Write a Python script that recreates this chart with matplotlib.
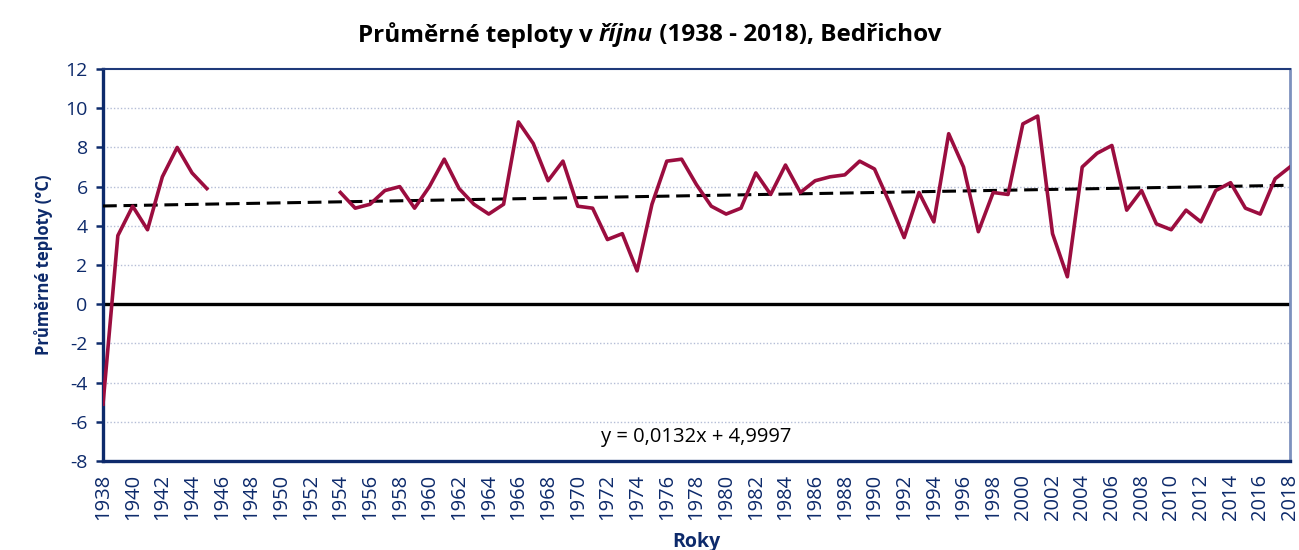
import numpy as np
import matplotlib.pyplot as plt

# October mean temperatures, Bedrichov (None = missing year)
years = list(range(1938, 2019))
temps = [-5.1, 3.5, 5.0, 3.8, 6.5, 8.0, 6.7, 5.9,
         None, None, None, None, None, None, None, None,
         5.7, 4.9, 5.1, 5.8, 6.0, 4.9, 6.0, 7.4, 5.9, 5.1,
         4.6, 5.1, 9.3, 8.2, 6.3, 7.3, 5.0, 4.9, 3.3, 3.6,
         1.7, 5.1, 7.3, 7.4, 6.1, 5.0, 4.6, 4.9, 6.7, 5.6,
         7.1, 5.7, 6.3, 6.5, 6.6, 7.3, 6.9, 5.2, 3.4, 5.7,
         4.2, 8.7, 7.0, 3.7, 5.7, 5.6, 9.2, 9.6, 3.6, 1.4,
         7.0, 7.7, 8.1, 4.8, 5.8, 4.1, 3.8, 4.8, 4.2, 5.8,
         6.2, 4.9, 4.6, 6.4, 7.0]

# linear trend as given in the chart (x = 1, 2, ... per year)
trend_slope = 0.0132
trend_intercept = 4.9997
trend_label = 'y = 0,0132x + 4,9997'

title_main = 'Průměrné teploty v '
title_ital = 'říjnu'
title_rest = ' (1938 - 2018), Bedřichov'
ylabel = 'Průměrné teploty (°C)'
xlabel = 'Roky'

navy = '#0d2a6b'
line_color = '#9b0d3f'

plt.rcParams['font.family'] = ['Open Sans', 'DejaVu Sans']
plt.rcParams['axes.unicode_minus'] = False

fig = plt.figure(figsize=(12.99, 5.5), dpi=100)
ax = fig.add_axes([0.0793, 0.1618, 0.9137, 0.7127])

yrs = np.array(years, dtype=float)
vals = np.array([np.nan if t is None else t for t in temps])

ax.set_xlim(1938, 2018)
ax.set_ylim(-8, 12)

# grid
for yv in range(-8, 13, 2):
    if yv in (-8, 0, 12):
        continue
    ax.axhline(yv, color='#b4bdd6', lw=1.0, ls=(0, (1, 1.5)), zorder=1)

ax.axhline(0, color='black', lw=2.4, zorder=2)

ax.plot(yrs, vals, color=line_color, lw=2.6, zorder=4)

idx = yrs - 1937
ax.plot(yrs, trend_slope * idx + trend_intercept, color='black', lw=2.2,
        ls=(0, (4.5, 2.2)), zorder=3)

ax.text(1978, -6.8, trend_label, ha='center', va='center', fontsize=14.5,
        color='black')

ax.set_yticks(range(-8, 13, 2))
ax.set_xticks(range(1938, 2019, 2))
ax.set_xticklabels([str(y) for y in range(1938, 2019, 2)], rotation=90)
ax.tick_params(axis='y', colors=navy, labelsize=14, length=5, width=1.8,
               direction='out', pad=6)
ax.tick_params(axis='x', colors=navy, labelsize=14.5, length=0, pad=9)
for lab in ax.get_xticklabels() + ax.get_yticklabels():
    lab.set_color(navy)

ax.spines['left'].set_color(navy)
ax.spines['left'].set_linewidth(2.4)
ax.spines['bottom'].set_color(navy)
ax.spines['bottom'].set_linewidth(2.4)
ax.spines['top'].set_color('#1f3a7a')
ax.spines['top'].set_linewidth(1.5)
ax.spines['right'].set_color('#7d91bd')
ax.spines['right'].set_linewidth(2.0)

ax.set_ylabel(ylabel, fontsize=12, fontweight='bold', color=navy, labelpad=9)
ax.set_xlabel(xlabel, fontsize=14, fontweight='bold', color=navy, labelpad=9)

# title with italic month name, assembled from three pieces
parts = [(title_main, 'normal'), (title_ital, 'italic'), (title_rest, 'normal')]
renderer = fig.canvas.get_renderer()
widths = []
objs = []
for txt, style in parts:
    o = fig.text(0, 0.936, txt, fontsize=17.5, fontweight='bold', style=style,
                 va='center', ha='left', color='black')
    widths.append(o.get_window_extent(renderer).width / fig.bbox.width)
    objs.append(o)
x0 = 0.5 - sum(widths) / 2
for o, w in zip(objs, widths):
    o.set_x(x0)
    x0 += w

fig.savefig('out.png', dpi=100)
